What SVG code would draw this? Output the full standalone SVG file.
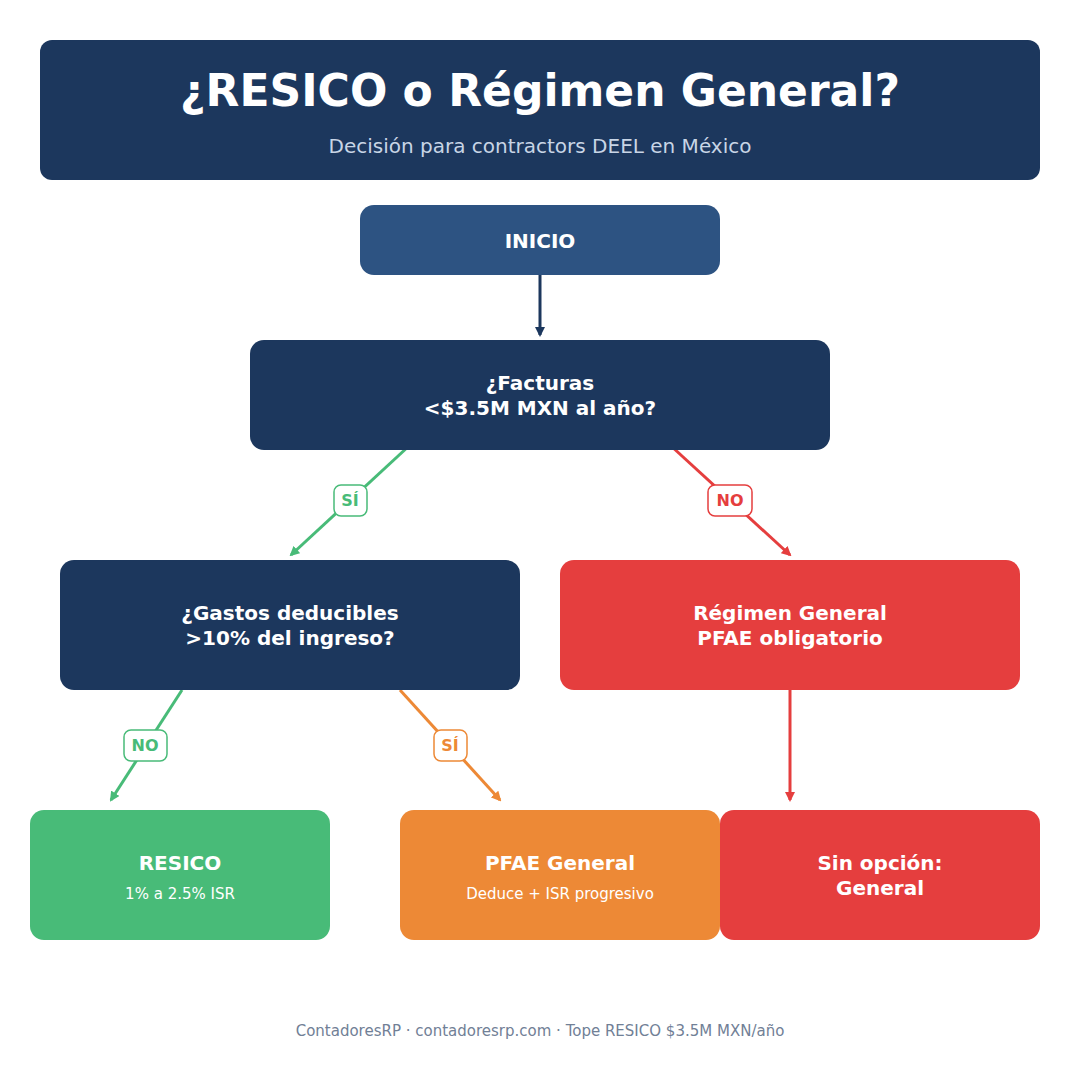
<svg xmlns="http://www.w3.org/2000/svg" width="1080" height="1080" viewBox="0 0 1080 1080">
<style>
text{font-family:"DejaVu Sans","Noto Sans",sans-serif;text-anchor:middle}
.w{fill:#fff;font-weight:bold;font-size:20px}
.s{fill:#fff;font-size:15px}
.lb{font-weight:bold;font-size:16px}
</style>
<defs>
<marker id="aN" markerWidth="10" markerHeight="10" refX="8" refY="5" orient="auto" markerUnits="userSpaceOnUse"><path d="M0,0 L10,5 L0,10z" fill="#1c375d"/></marker>
<marker id="aG" markerWidth="10" markerHeight="10" refX="8" refY="5" orient="auto" markerUnits="userSpaceOnUse"><path d="M0,0 L10,5 L0,10z" fill="#48bb78"/></marker>
<marker id="aR" markerWidth="10" markerHeight="10" refX="8" refY="5" orient="auto" markerUnits="userSpaceOnUse"><path d="M0,0 L10,5 L0,10z" fill="#e53e3e"/></marker>
<marker id="aO" markerWidth="10" markerHeight="10" refX="8" refY="5" orient="auto" markerUnits="userSpaceOnUse"><path d="M0,0 L10,5 L0,10z" fill="#ed8936"/></marker>
</defs>
<rect width="1080" height="1080" fill="#fff"/>
<g id="header">
<rect x="40" y="40" width="1000" height="140" rx="12" fill="#1c375d"/>
<text x="540" y="106" fill="#fff" font-weight="bold" font-size="44">¿RESICO o Régimen General?</text>
<text x="540" y="153" fill="#c8d5e6" font-size="20">Decisión para contractors DEEL en México</text>
</g>
<g id="connectors" stroke-width="3" fill="none">
<line x1="540" y1="275" x2="540" y2="335" stroke="#1c375d" marker-end="url(#aN)"/>
<line x1="410" y1="445" x2="291" y2="555" stroke="#48bb78" marker-end="url(#aG)"/>
<line x1="670" y1="445" x2="790" y2="555" stroke="#e53e3e" marker-end="url(#aR)"/>
<line x1="182" y1="690" x2="111" y2="800" stroke="#48bb78" marker-end="url(#aG)"/>
<line x1="400" y1="690" x2="500" y2="800" stroke="#ed8936" marker-end="url(#aO)"/>
<line x1="790" y1="690" x2="790" y2="800" stroke="#e53e3e" marker-end="url(#aR)"/>
<rect x="334" y="485" width="33" height="31" rx="7" fill="#fff" stroke="#48bb78" stroke-width="1.5"/>
<text x="350" y="506" class="lb" fill="#48bb78" stroke="none">SÍ</text>
<rect x="708" y="485" width="44" height="31" rx="7" fill="#fff" stroke="#e53e3e" stroke-width="1.5"/>
<text x="730" y="506" class="lb" fill="#e53e3e" stroke="none">NO</text>
<rect x="124" y="730" width="43" height="31" rx="7" fill="#fff" stroke="#48bb78" stroke-width="1.5"/>
<text x="145" y="751" class="lb" fill="#48bb78" stroke="none">NO</text>
<rect x="434" y="730" width="33" height="31" rx="7" fill="#fff" stroke="#ed8936" stroke-width="1.5"/>
<text x="450" y="751" class="lb" fill="#ed8936" stroke="none">SÍ</text>
</g>
<g id="inicio"><rect x="360" y="205" width="360" height="70" rx="14" fill="#2d5382"/><text x="540" y="248" class="w">INICIO</text></g>
<g id="q1"><rect x="250" y="340" width="580" height="110" rx="14" fill="#1c375d"/><text x="540" y="390" class="w">¿Facturas</text><text x="540" y="415" class="w">&lt;$3.5M MXN al año?</text></g>
<g id="q2"><rect x="60" y="560" width="460" height="130" rx="14" fill="#1c375d"/><text x="290" y="620" class="w">¿Gastos deducibles</text><text x="290" y="645" class="w">&gt;10% del ingreso?</text></g>
<g id="regimen"><rect x="560" y="560" width="460" height="130" rx="14" fill="#e53e3e"/><text x="790" y="620" class="w">Régimen General</text><text x="790" y="645" class="w">PFAE obligatorio</text></g>
<g id="resico"><rect x="30" y="810" width="300" height="130" rx="14" fill="#48bb78"/><text x="180" y="870" class="w">RESICO</text><text x="180" y="899" class="s">1% a 2.5% ISR</text></g>
<g id="pfae"><rect x="400" y="810" width="320" height="130" rx="14" fill="#ed8936"/><text x="560" y="870" class="w">PFAE General</text><text x="560" y="899" class="s">Deduce + ISR progresivo</text></g>
<g id="sinopcion"><rect x="720" y="810" width="320" height="130" rx="14" fill="#e53e3e"/><text x="880" y="870" class="w">Sin opción:</text><text x="880" y="895" class="w">General</text></g>
<text x="540" y="1036" fill="#718096" font-size="15">ContadoresRP · contadoresrp.com · Tope RESICO $3.5M MXN/año</text>
</svg>
